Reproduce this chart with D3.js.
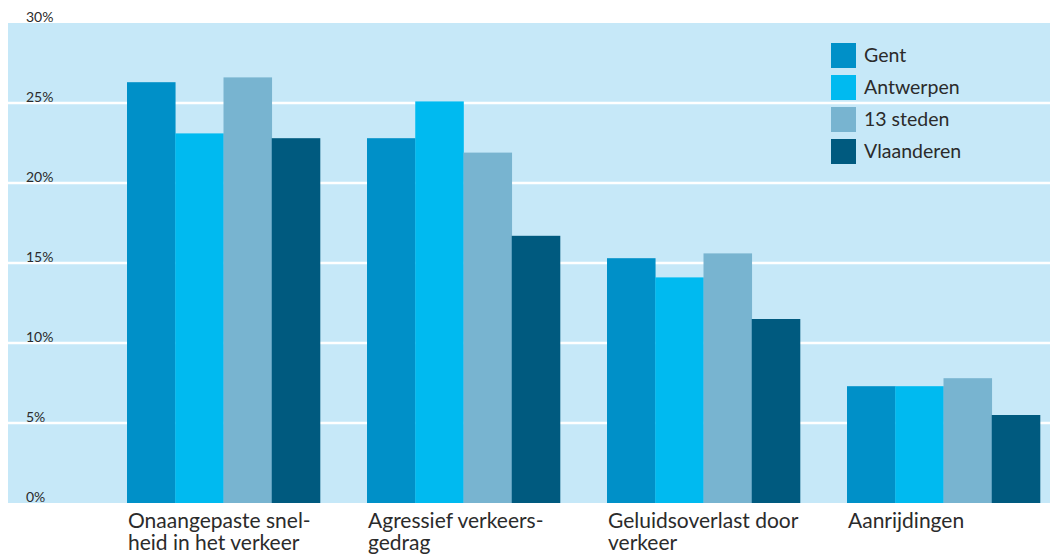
<!DOCTYPE html>
<html>
<head>
<meta charset="utf-8">
<script src="https://cdn.jsdelivr.net/npm/d3@7"></script>
<style>
  html, body { margin: 0; padding: 0; background: #ffffff; }
  svg { display: block; }
  text { font-family: Lato, "Noto Sans", sans-serif; fill: #2b2b2b; }
</style>
</head>
<body>
<svg id="chart" width="1050" height="555"></svg>
<script>
const categories = [
  ["Onaangepaste snel-", "heid in het verkeer"],
  ["Agressief verkeers-", "gedrag"],
  ["Geluidsoverlast door", "verkeer"],
  ["Aanrijdingen"]
];
const seriesNames = ["Gent", "Antwerpen", "13 steden", "Vlaanderen"];
const seriesColors = ["#0090c8", "#00baf0", "#78b4d0", "#005a7f"];
const gent       = [26.3, 22.8, 15.3, 7.3];
const antwerpen  = [23.1, 25.1, 14.1, 7.3];
const steden13   = [26.6, 21.9, 15.6, 7.8];
const vlaanderen = [22.8, 16.7, 11.5, 5.5];
const yTicks = [0, 5, 10, 15, 20, 25, 30];

const seriesValues = [gent, antwerpen, steden13, vlaanderen];

const plotLeft = 8, plotRight = 1050, plotTop = 23, plotBottom = 503;

const svg = d3.select("#chart");

const y = d3.scaleLinear().domain([0, 30]).range([plotBottom, plotTop]);
const x0 = d3.scaleBand().domain(d3.range(categories.length))
  .range([127, 1040]).paddingInner(47 / 240).paddingOuter(0);
const x1 = d3.scaleBand().domain(d3.range(seriesNames.length))
  .range([0, x0.bandwidth()]).padding(0);

// background
svg.append("rect")
  .attr("x", plotLeft).attr("y", plotTop)
  .attr("width", plotRight - plotLeft).attr("height", plotBottom - plotTop)
  .attr("fill", "#c6e8f8");

// gridlines
svg.append("g").selectAll("line")
  .data(yTicks.filter(t => t > 0 && t < 30))
  .join("line")
  .attr("x1", plotLeft).attr("x2", plotRight)
  .attr("y1", d => y(d)).attr("y2", d => y(d))
  .attr("stroke", "#ffffff").attr("stroke-width", 2.5);

// tick labels
svg.append("g").selectAll("text")
  .data(yTicks)
  .join("text")
  .attr("x", 26)
  .attr("y", d => y(d) - 1)
  .attr("font-size", 14)
  .text(d => d + "%");

// bars
const groups = svg.append("g").selectAll("g")
  .data(categories.map((c, i) => i))
  .join("g")
  .attr("transform", i => `translate(${x0(i)},0)`);

groups.selectAll("rect")
  .data(i => seriesValues.map((s, j) => ({ j, v: s[i] })))
  .join("rect")
  .attr("x", d => x1(d.j))
  .attr("width", x1.bandwidth() + 0.3)
  .attr("y", d => y(d.v))
  .attr("height", d => y(0) - y(d.v))
  .attr("fill", d => seriesColors[d.j]);

// category labels
const lab = svg.append("g").selectAll("text")
  .data(categories)
  .join("text")
  .attr("x", (d, i) => x0(i) + 1)
  .attr("y", 528)
  .attr("font-size", 21);
lab.selectAll("tspan")
  .data(d => d)
  .join("tspan")
  .attr("x", function() { return d3.select(this.parentNode).attr("x"); })
  .attr("dy", (d, k) => k === 0 ? 0 : 22)
  .text(d => d);

// legend
const leg = svg.append("g").selectAll("g")
  .data(seriesNames)
  .join("g")
  .attr("transform", (d, i) => `translate(831,${43 + i * 32})`);
leg.append("rect")
  .attr("width", 25).attr("height", 25)
  .attr("fill", (d, i) => seriesColors[i]);
leg.append("text")
  .attr("x", 33).attr("y", 19)
  .attr("font-size", 19.5)
  .text(d => d);
</script>
</body>
</html>
